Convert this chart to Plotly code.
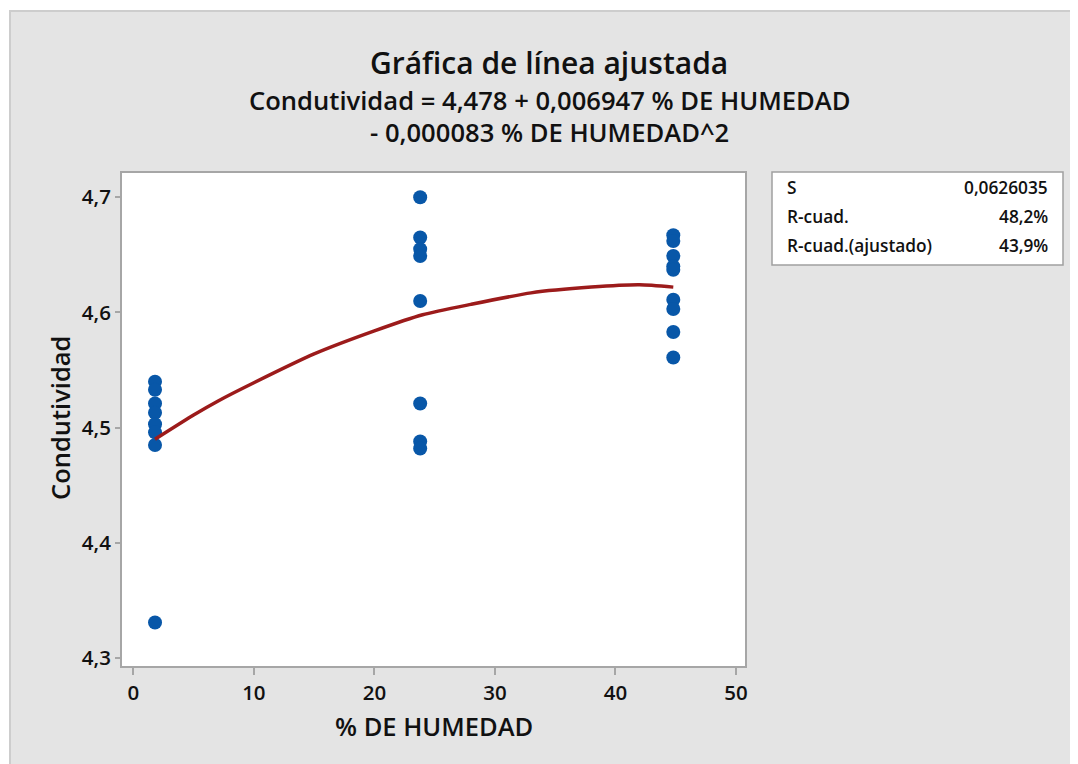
import plotly.graph_objects as go

# Observed data
x_low = [1.8] * 8
y_low = [4.540, 4.533, 4.521, 4.513, 4.503, 4.496, 4.485, 4.331]
x_mid = [23.8] * 8
y_mid = [4.700, 4.665, 4.655, 4.649, 4.610, 4.521, 4.488, 4.482]
x_high = [44.8] * 9
y_high = [4.667, 4.662, 4.649, 4.640, 4.637, 4.611, 4.603, 4.583, 4.561]

# Fitted line
fit_x = [1.8, 5, 7, 10, 15, 20, 24, 28, 33, 38, 42, 44.8]
fit_y = [4.490, 4.511, 4.523, 4.539, 4.564, 4.584, 4.598, 4.607, 4.617, 4.622, 4.624, 4.622]

x_ticks = [0, 10, 20, 30, 40, 50]
y_ticks = [4.3, 4.4, 4.5, 4.6, 4.7]
y_tick_text = ["4,3", "4,4", "4,5", "4,6", "4,7"]

stat_names = ["S", "R-cuad.", "R-cuad.(ajustado)"]
stat_values = ["0,0626035", "48,2%", "43,9%"]

title_text = "Gráfica de línea ajustada"
subtitle_1 = "Condutividad = 4,478 + 0,006947 % DE HUMEDAD"
subtitle_2 = "- 0,000083 % DE HUMEDAD^2"
x_title = "% DE HUMEDAD"
y_title = "Condutividad"

FONT = "Open Sans"
BLUE = "#0857a8"
RED = "#9c1b1b"
AXIS = "#a6a6a6"
TXT = "#111111"

fig = go.Figure()
xs = x_low + x_mid + x_high
ys = y_low + y_mid + y_high
fig.add_trace(go.Scatter(x=xs, y=ys, mode="markers",
                         marker=dict(color=BLUE, size=14, line=dict(width=0)),
                         showlegend=False, hoverinfo="x+y"))
fig.add_trace(go.Scatter(x=fit_x, y=fit_y, mode="lines",
                         line=dict(color=RED, width=3.5, shape="spline", smoothing=0.6),
                         showlegend=False))

# page has an 8px body margin; figure coordinates = reference pixels - 8
OFF = 8
W, H = 1078 - OFF, 764 - OFF
L = 122 - OFF
T = 173 - OFF
R = W - (745 - OFF)
B = H - (666 - OFF)
pw, ph = W - L - R, H - T - B

def px(p):
    return (p - OFF - L) / pw

def py(q):
    return (H - B - (q - OFF)) / ph

shapes = [
    dict(type="rect", xref="paper", yref="paper", layer="below",
         x0=px(10), x1=px(1095), y0=py(790), y1=py(11),
         fillcolor="#e4e4e4", line=dict(color="#cdcdcd", width=2)),
    dict(type="rect", xref="x domain", yref="y domain", layer="below",
         x0=0, x1=1, y0=0, y1=1, fillcolor="white", line=dict(width=0)),
    # stats box
    dict(type="rect", xref="paper", yref="paper", layer="above",
         x0=px(772), x1=px(1063), y0=py(265), y1=py(172),
         fillcolor="white", line=dict(color="#a0a0a0", width=1.5)),
]

def ann(text, x, y, size, weight, xanchor="center", angle=0):
    return dict(text=text, x=px(x), y=py(y), xref="paper", yref="paper",
                showarrow=False, xanchor=xanchor, yanchor="middle", textangle=angle,
                font=dict(family=FONT, size=size, color=TXT, weight=weight))

annotations = [
    ann(title_text, 549, 62, 30, 600),
    ann(subtitle_1, 549, 101, 25.6, 600),
    ann(subtitle_2, 549, 133, 25.6, 600),
    ann(x_title, 433.5, 726, 25.5, 600),
    ann(y_title, 60, 418, 25.5, 600, angle=-90),
]
row_y = [187, 216, 245]
for name, val, ry in zip(stat_names, stat_values, row_y):
    annotations.append(ann(name, 785, ry, 17.3, 600, xanchor="left"))
    annotations.append(ann(val, 1050, ry, 17.3, 600, xanchor="right"))

tickfont = dict(size=20.5, family=FONT, color=TXT, weight=600)
fig.update_layout(
    width=W, height=H,
    margin=dict(l=L, r=R, t=T, b=B, pad=0),
    paper_bgcolor="white", plot_bgcolor="white",
    shapes=shapes, annotations=annotations,
    font=dict(family=FONT, color=TXT),
    xaxis=dict(range=[-0.94, 50.75], tickvals=x_ticks, ticktext=[str(v) for v in x_ticks],
               showgrid=False, zeroline=False, showline=True, mirror=True,
               linecolor=AXIS, linewidth=2, ticks="outside", ticklen=7, tickwidth=2,
               tickcolor=AXIS, tickfont=tickfont),
    yaxis=dict(range=[4.2933, 4.721], tickvals=y_ticks, ticktext=y_tick_text,
               showgrid=False, zeroline=False, showline=True, mirror=True,
               linecolor=AXIS, linewidth=2, ticks="outside", ticklen=5, tickwidth=2,
               tickcolor=AXIS, tickfont=tickfont),
)

fig.write_html("out.html")
